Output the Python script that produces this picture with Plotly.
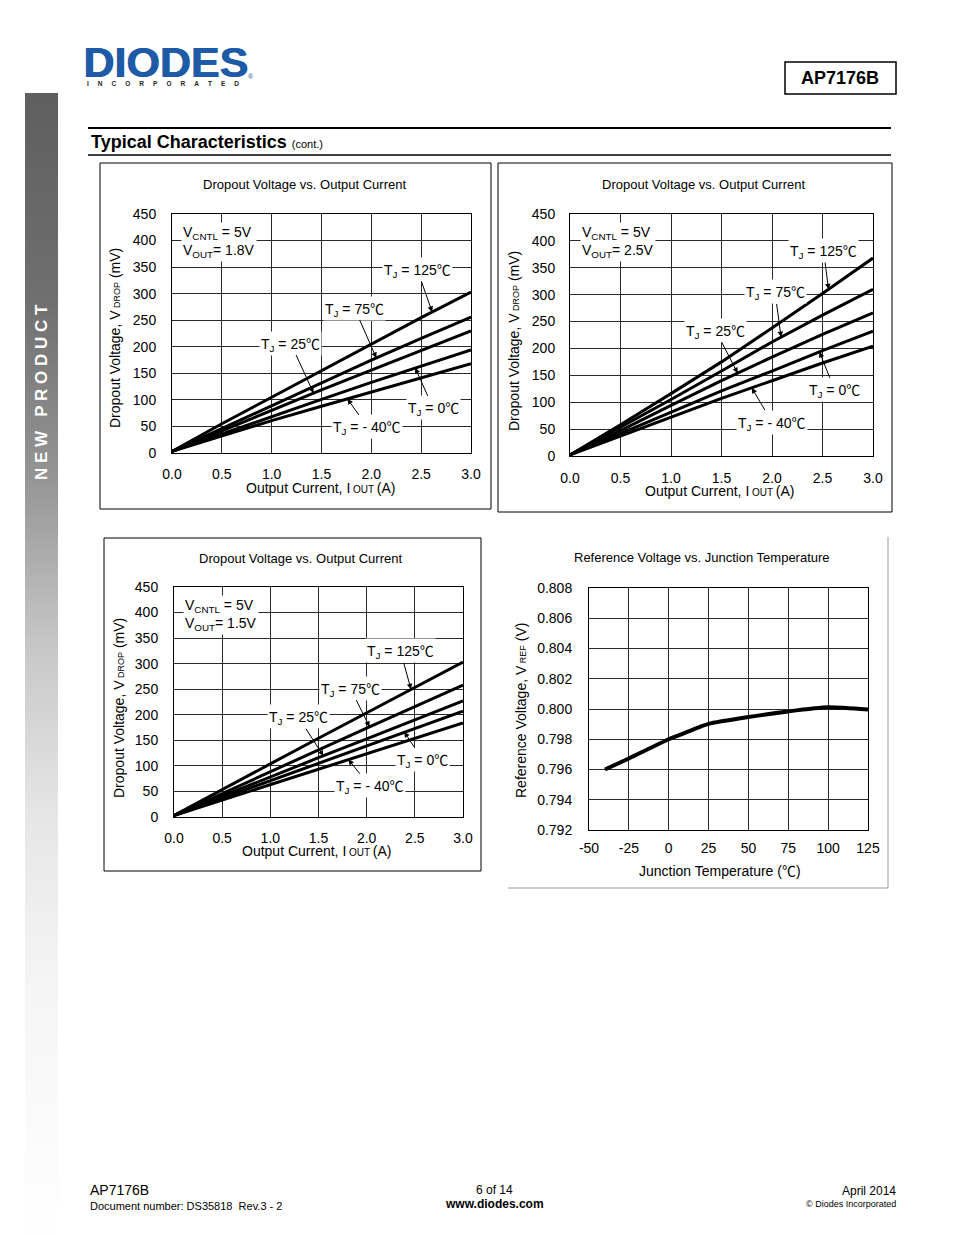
import numpy as np
import plotly.graph_objects as go

# ------------------------------------------------------------------ data
current = [0.0, 0.5, 1.0, 1.5, 2.0, 2.5, 3.0]          # Output current (A)

# VCNTL = 5V, VOUT = 1.8V  (dropout, mV)
vd18_125 = [3, 55, 105, 155, 205, 255, 303]
vd18_75 = [3, 46, 89, 132, 175, 216, 256]
vd18_25 = [3, 42, 81, 119, 156, 193, 230]
vd18_0 = [3, 36, 69, 101, 133, 164, 194]
vd18_m40 = [3, 32, 61, 88, 115, 142, 168]

# VCNTL = 5V, VOUT = 2.5V
vd25_125 = [2, 58, 116, 175, 238, 302, 368]
vd25_75 = [2, 53, 105, 158, 212, 262, 310]
vd25_25 = [2, 47, 94, 140, 184, 226, 266]
vd25_0 = [2, 42, 82, 121, 158, 196, 232]
vd25_m40 = [2, 37, 73, 107, 140, 173, 204]

# VCNTL = 5V, VOUT = 1.5V
vd15_125 = [3, 54, 104, 154, 204, 254, 303]
vd15_75 = [3, 46, 89, 131, 174, 216, 258]
vd15_25 = [3, 41, 79, 116, 153, 190, 227]
vd15_0 = [3, 37, 72, 106, 140, 174, 207]
vd15_m40 = [3, 33, 64, 94, 124, 154, 184]

# Reference voltage vs junction temperature
tj = [-40, -25, 0, 12, 20, 25, 50, 75, 100, 125]
vref = [0.7960, 0.79673, 0.7980, 0.7985, 0.79884, 0.79902, 0.79947, 0.79984, 0.80011, 0.79996]
temp_ticks = [-50, -25, 0, 25, 50, 75, 100, 125]
temp_ticktext = ["-50", "-25", "0", "25", "50", "75", "100", "125"]

tj_names = ["125", "75", "25", "0", "- 40"]

# ------------------------------------------------------------------ layout helpers
PAGE_W, PAGE_H = 954, 1235
OFF = 8                      # browser body margin
W, H = PAGE_W - OFF, PAGE_H - OFF
FONT = "Liberation Sans, Arial, DejaVu Sans, sans-serif"
DEG = "<span style='font-family:Noto Sans CJK SC'>℃</span>"


def px(x):
    return (x - OFF) / W


def py(y):
    return 1 - (y - OFF) / H


fig = go.Figure()

curve_sets = [
    ("x", "y", [vd18_125, vd18_75, vd18_25, vd18_0, vd18_m40]),
    ("x2", "y2", [vd25_125, vd25_75, vd25_25, vd25_0, vd25_m40]),
    ("x3", "y3", [vd15_125, vd15_75, vd15_25, vd15_0, vd15_m40]),
]
for xa, ya, sets in curve_sets:
    for name, s in zip(tj_names, sets):
        fig.add_trace(go.Scatter(x=current, y=s, xaxis=xa, yaxis=ya, mode="lines",
                                 line=dict(color="black", width=3), name=name,
                                 showlegend=False, hoverinfo="skip"))

fig.add_trace(go.Scatter(x=tj, y=vref, xaxis="x4", yaxis="y4", mode="lines",
                         line=dict(color="black", width=4, shape="spline", smoothing=0.6),
                         showlegend=False, hoverinfo="skip"))


def axis(dom_px, rng, dtick, fmt, anchor, standoff, horizontal):
    if horizontal:
        dom = [px(dom_px[0]), px(dom_px[1])]
    else:
        dom = [py(dom_px[1]), py(dom_px[0])]
    return dict(domain=dom, range=rng, dtick=dtick, tick0=rng[0], tickformat=fmt,
                anchor=anchor, showgrid=True, gridcolor="#2a2a2a", gridwidth=1,
                showline=True, linecolor="black", linewidth=1, mirror=True,
                zeroline=False, ticks="", ticklabelstandoff=standoff, automargin=False,
                tickfont=dict(family=FONT, size=14, color="black"), fixedrange=True)


x4 = axis((589, 868), [-50, 125], 25, "d", "y4", 5, True)
x4.update(tickmode="array", tickvals=temp_ticks, ticktext=temp_ticktext)

layout_axes = dict(
    xaxis=axis((172, 471), [0, 3], 0.5, ".1f", "y", 8, True),
    yaxis=axis((214, 453), [0, 450], 50, "d", "x", 12, False),
    xaxis2=axis((570, 873), [0, 3], 0.5, ".1f", "y2", 9, True),
    yaxis2=axis((214, 456), [0, 450], 50, "d", "x2", 11, False),
    xaxis3=axis((174, 463), [0, 3], 0.5, ".1f", "y3", 8, True),
    yaxis3=axis((587, 817), [0, 450], 50, "d", "x3", 12, False),
    xaxis4=x4,
    yaxis4=axis((588, 830), [0.792, 0.808], 0.002, ".3f", "x4", 13, False),
)

ann = []


def text(t, x, y, size=13, xanchor="center", yanchor="middle", angle=0, color="black", bg=None):
    d = dict(text=t, x=px(x), y=py(y), xref="paper", yref="paper", showarrow=False,
             xanchor=xanchor, yanchor=yanchor, textangle=angle,
             font=dict(family=FONT, size=size, color=color))
    if bg:
        d["bgcolor"] = bg
    ann.append(d)


def tj_label(xa, ya, name, series, head_x, tx, ty):
    head_y = float(np.interp(head_x, current, series))
    ann.append(dict(text="T<sub>J</sub> = " + name + DEG, x=head_x, y=head_y,
                    xref=xa, yref=ya, axref=xa, ayref=ya, ax=tx, ay=ty,
                    showarrow=True, arrowhead=2, arrowsize=1.1, arrowwidth=1,
                    arrowcolor="black", bgcolor="white", borderpad=1, standoff=0,
                    font=dict(family=FONT, size=14, color="black")))


# chart titles / axis titles
ytitle = "Dropout Voltage, V<span style='font-size:9px'> DROP</span> (mV)"
xtitle = "Output Current, I<span style='font-size:10px'> OUT </span>(A)"
for (cx, cy), (yx, yy), (xx, xy) in [((304, 184), (115, 338), (320, 488)),
                                     ((703, 184), (514, 341), (719, 491)),
                                     ((300, 558), (119, 708), (316, 851))]:
    text("Dropout Voltage vs. Output Current", cx, cy, 13)
    text(ytitle, yx, yy, 14, angle=-90)
    text(xtitle, xx, xy, 14)

text("Reference Voltage vs. Junction Temperature", 702, 557, 13)
text("Reference Voltage, V<span style='font-size:9px'> REF</span> (V)", 521, 711, 14, angle=-90)
text("Junction Temperature (" + DEG + ")", 720, 870, 14)

# condition boxes
for x0, y0, vout in [(181, 222, "1.8V"), (580, 222, "2.5V"), (183, 595, "1.5V")]:
    ann.append(dict(text="V<sub>CNTL</sub> = 5V<br>V<sub>OUT</sub>= " + vout,
                    x=px(x0), y=py(y0), xref="paper", yref="paper", showarrow=False,
                    xanchor="left", yanchor="top", align="left", bgcolor="white",
                    borderpad=1, font=dict(family=FONT, size=14, color="black")))

# TJ labels with arrows (arrow head x, label centre x, label centre y in data units)
s1 = [vd18_125, vd18_75, vd18_25, vd18_0, vd18_m40]
pos1 = [(2.61, 2.46, 346), (2.05, 1.83, 273), (1.42, 1.19, 207), (2.44, 2.62, 85), (1.76, 1.96, 49)]
s2 = [vd25_125, vd25_75, vd25_25, vd25_0, vd25_m40]
pos2 = [(2.56, 2.51, 382), (2.09, 2.03, 305), (1.66, 1.44, 234), (2.47, 2.62, 123), (1.80, 2.00, 63)]
s3 = [vd15_125, vd15_75, vd15_25, vd15_0, vd15_m40]
pos3 = [(2.46, 2.35, 325), (2.03, 1.83, 252), (1.55, 1.29, 196), (2.39, 2.58, 112), (1.81, 2.03, 61)]
for xa, ya, ss, pp in [("x", "y", s1, pos1), ("x2", "y2", s2, pos2), ("x3", "y3", s3, pos3)]:
    for name, s, (hx, tx, ty) in zip(tj_names, ss, pp):
        tj_label(xa, ya, name, s, hx, tx, ty)

# page header
for dx in (0, 0.8):
    ann.append(dict(text="DIODES", x=px(81 + dx), y=py(62), xref="paper", yref="paper",
                    showarrow=False, xanchor="left", yanchor="middle",
                    font=dict(family=FONT, size=43, color="#1d5ba7", weight="bold")))
text("®", 251, 76, 7, color="#1d5ba7")
text("<b>" + ("\u00a0" * 5).join("INCORPORATED") + "</b>", 85, 83, 6.5,
     xanchor="left", color="#222")

text("<b>AP7176B</b>", 840, 78, 18)
text("<b>Typical Characteristics</b> <span style='font-size:11px'>(cont.)</span>",
     89, 142, 18, xanchor="left")

# side bar text
text("<b>N E W \u00a0 P R O D U C T</b>", 41, 392, 17, angle=-90, color="white")

# footer
text("AP7176B", 88, 1190, 14, xanchor="left")
text("Document number: DS35818  Rev.3 - 2", 88, 1206, 11, xanchor="left")
text("6 of 14", 494, 1190, 12)
text("<b>www.diodes.com</b>", 494, 1204, 12)
text("April 2014", 898, 1191, 12, xanchor="right")
text("© Diodes Incorporated", 898, 1204, 9, xanchor="right")

# ------------------------------------------------------------------ shapes
shapes = []


def rect(x0, y0, x1, y1, color="black", width=1, fill=None, layer="above"):
    d = dict(type="rect", xref="paper", yref="paper", x0=px(x0), x1=px(x1), y0=py(y0), y1=py(y1),
             line=dict(color=color, width=width), layer=layer)
    if fill:
        d["fillcolor"] = fill
    shapes.append(d)


def line(x0, y0, x1, y1, color="black", width=1):
    shapes.append(dict(type="line", xref="paper", yref="paper", x0=px(x0), x1=px(x1),
                       y0=py(y0), y1=py(y1), line=dict(color=color, width=width)))


# side gradient bar
grad_y = [93, 300, 480, 647, 813, 980, 1150, 1235]
grad_g = [95, 112, 150, 200, 230, 245, 252, 255]
for y in range(93, 1235, 3):
    g = int(np.interp(y + 1.5, grad_y, grad_g))
    shapes.append(dict(type="rect", xref="paper", yref="paper", x0=px(25), x1=px(58),
                       y0=py(y), y1=py(min(y + 4, 1235)), line=dict(width=0),
                       fillcolor=f"rgb({g},{g},{g})", layer="below"))

rect(100, 163, 491, 509)
rect(498, 163, 892, 512)
rect(104, 538, 481, 871)
line(888, 537, 888, 888, "#9a9a9a", 1)
line(508, 888, 888, 888, "#9a9a9a", 1)

rect(785, 62, 896, 94, width=1.5)
line(88, 128, 891, 128, width=2)
line(88, 155, 891, 155, width=1.5)

fig.update_layout(
    width=W, height=H, margin=dict(l=0, r=0, t=0, b=0, pad=0, autoexpand=False),
    paper_bgcolor="white", plot_bgcolor="white",
    annotations=ann, shapes=shapes, showlegend=False,
    font=dict(family=FONT, color="black"),
    **layout_axes,
)

fig.write_html("out.html", config=dict(displayModeBar=False))
